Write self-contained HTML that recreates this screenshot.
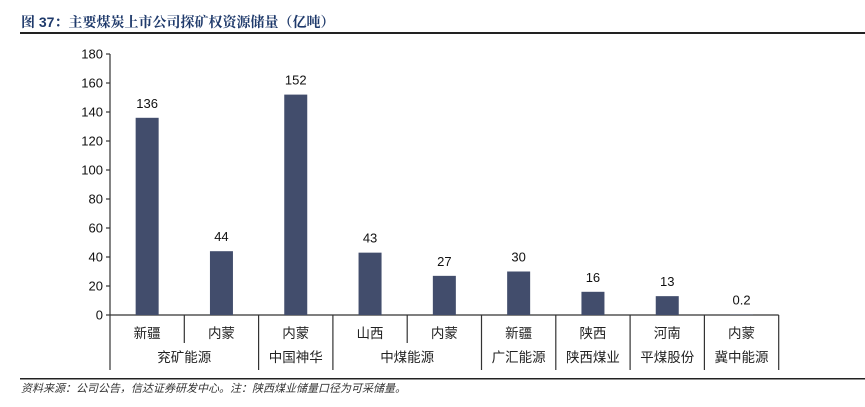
<!DOCTYPE html>
<html><head><meta charset="utf-8"><style>
body{margin:0;background:#fff;width:865px;height:402px;overflow:hidden;font-family:"Liberation Sans","Noto Sans CJK SC",sans-serif}
</style></head><body>
<svg width="865" height="402" xmlns="http://www.w3.org/2000/svg">
<text x="21" y="27" font-size="14" font-weight="bold" fill="#1f3a6b" font-family="Liberation Sans,Noto Serif CJK SC,serif">图 37：主要煤炭上市公司探矿权资源储量（亿吨）</text>
<rect x="20" y="32" width="845" height="2" fill="#222"/>
<g id="plot"></g>
<rect x="20" y="378" width="845" height="1.5" fill="#222"/>
<text x="21" y="392" font-size="11" font-style="italic" fill="#333">资料来源：公司公告，信达证券研发中心。注：陕西煤业储量口径为可采储量。</text>
</svg>
<script>
const categories=["新疆","内蒙","内蒙","山西","内蒙","新疆","陕西","河南","内蒙"];
const values=[136,44,152,43,27,30,16,13,0.2];
const valueLabels=["136","44","152","43","27","30","16","13","0.2"];
const groups=["兖矿能源","中国神华","中煤能源","广汇能源","陕西煤业","平煤股份","冀中能源"];
const groupSizes=[2,1,2,1,1,1,1];
const yTicks=[0,20,40,60,80,100,120,140,160,180];
const NS="http://www.w3.org/2000/svg";
const g=document.getElementById('plot');
const x0=110,cw=74.3,y0=315,yMax=180,yTop=54;
const ys=v=>y0-(v/yMax)*(y0-yTop);
const xs=i=>x0+i*cw;
function mk(t,a,txt){const e=document.createElementNS(NS,t);for(const k in a)e.setAttribute(k,a[k]);if(txt!==undefined)e.textContent=txt;g.appendChild(e);return e;}
let e=mk('line',{x1:x0,y1:yTop,x2:x0,y2:y0,stroke:'#333','stroke-width':1.2});


yTicks.forEach(t=>{
 let l=mk('line',{x1:x0-4,y1:ys(t),x2:x0,y2:ys(t),stroke:'#333','stroke-width':1.2});
 
 
 let tx=mk('text',{x:x0-7,y:ys(t)+4.5,'font-size':13,'text-anchor':'end',fill:'#111'},String(t));
 
 
});
e=mk('line',{x1:x0,y1:y0,x2:xs(categories.length),y2:y0,stroke:'#333','stroke-width':1.2});


categories.forEach((c,i)=>{
 const cx=xs(i)+cw/2;
 let b=mk('rect',{x:cx-11.5,y:ys(values[i]),width:23,height:y0-ys(values[i]),fill:'#424d6c'});
 
 
 let v=mk('text',{x:cx,y:ys(values[i])-10,'font-size':13,'text-anchor':'middle',fill:'#111'},valueLabels[i]);
 
 
 let t=mk('text',{x:cx,y:338,'font-size':13.5,'text-anchor':'middle',fill:'#222'},c);
 
 
});
// dividers
let idx=0;const bounds=new Set([0]);
groupSizes.forEach(s=>{idx+=s;bounds.add(idx);});
for(let i=0;i<=categories.length;i++){
 const full=bounds.has(i);
 let l=mk('line',{x1:xs(i),y1:y0,x2:xs(i),y2:full?370:343,stroke:'#333','stroke-width':1.2});
 
 
}
idx=0;
groups.forEach((gname,j)=>{
 const cx=xs(idx)+groupSizes[j]*cw/2;idx+=groupSizes[j];
 let t=mk('text',{x:cx,y:362,'font-size':13.5,'text-anchor':'middle',fill:'#222'},gname);
 
 
});
</script>
</body></html>
